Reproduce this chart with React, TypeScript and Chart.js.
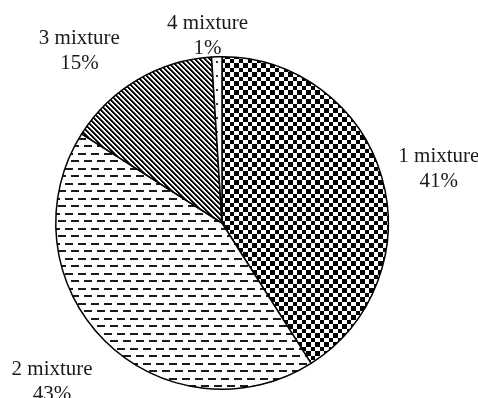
import React, { useEffect, useRef } from "react";
import { Chart, registerables } from "chart.js";

Chart.register(...registerables);

const categories = ["1 mixture", "2 mixture", "3 mixture", "4 mixture"];
const shares = [41, 43, 15, 1];
const percentLabels = ["41%", "43%", "15%", "1%"];
// Extra pixel shift applied to each outside label after radial placement
const labelNudges: [number, number][] = [
  [2, 8],
  [-11, 0],
  [-31, 17],
  [-8, 17],
];

const FONT = "21px 'Liberation Serif', 'Times New Roman', serif";
const LINE_H = 25;

function makeTile(w: number, h: number, paint: (c: CanvasRenderingContext2D) => void) {
  const cv = document.createElement("canvas");
  cv.width = w;
  cv.height = h;
  const c = cv.getContext("2d")!;
  c.fillStyle = "#fff";
  c.fillRect(0, 0, w, h);
  paint(c);
  return cv;
}

function buildPatterns(ctx: CanvasRenderingContext2D): CanvasPattern[] {
  const checker = makeTile(9, 9, (c) => {
    c.fillStyle = "#000";
    c.fillRect(0, 0, 5, 5);
    c.fillRect(5, 5, 4, 4);
  });
  const dashes = makeTile(13, 15, (c) => {
    c.fillStyle = "#1a1a1a";
    c.fillRect(0, 3, 8, 2);
    c.fillRect(6, 10, 8, 2);
    c.fillRect(-7, 10, 8, 2);
  });
  const stripes = makeTile(5, 5, (c) => {
    for (let y = 0; y < 5; y++) {
      for (let x = 0; x < 5; x++) {
        const m = (((x - y) % 5) + 5) % 5;
        if (m < 2) {
          c.fillStyle = "#000";
          c.fillRect(x, y, 1, 1);
        } else if (m === 2) {
          c.fillStyle = "#666";
          c.fillRect(x, y, 1, 1);
        }
      }
    }
  });
  const dots = makeTile(14, 14, (c) => {
    c.fillStyle = "#333";
    c.fillRect(6, 5, 2, 2);
  });
  return [checker, dashes, stripes, dots].map((t) => ctx.createPattern(t, "repeat")!);
}

const outsideLabels = {
  id: "outsideLabels",
  afterDraw(chart: any) {
    const ctx: CanvasRenderingContext2D = chart.ctx;
    const meta = chart.getDatasetMeta(0);
    ctx.save();
    ctx.font = FONT;
    ctx.fillStyle = "#1a1a1a";
    ctx.textAlign = "center";
    ctx.textBaseline = "middle";
    const gap = 12;
    meta.data.forEach((arc: any, i: number) => {
      const { x, y, startAngle, endAngle, outerRadius } = arc.getProps(
        ["x", "y", "startAngle", "endAngle", "outerRadius"],
        true
      );
      const mid = (startAngle + endAngle) / 2;
      const ux = Math.cos(mid);
      const uy = Math.sin(mid);
      const lines = [categories[i], percentLabels[i]];
      const hw = Math.max(...lines.map((l) => ctx.measureText(l).width)) / 2;
      const hh = (LINE_H * lines.length) / 2;
      // push the label box outward until it clears the pie by `gap`
      let d = outerRadius;
      for (; d < outerRadius * 2; d += 0.5) {
        const cx = d * ux;
        const cy = d * uy;
        const nx = Math.max(Math.abs(cx) - hw, 0);
        const ny = Math.max(Math.abs(cy) - hh, 0);
        if (Math.hypot(nx, ny) >= outerRadius + gap) break;
      }
      const lx = x + d * ux + labelNudges[i][0];
      const ly = y + d * uy + labelNudges[i][1];
      lines.forEach((t, k) => {
        ctx.fillText(t, lx, ly + (k - (lines.length - 1) / 2) * LINE_H);
      });
    });
    ctx.restore();
  },
};

export default function App() {
  const ref = useRef<HTMLCanvasElement>(null);

  useEffect(() => {
    const canvas = ref.current!;
    const ctx = canvas.getContext("2d")!;
    const chart = new Chart(canvas, {
      type: "pie",
      data: {
        labels: categories,
        datasets: [
          {
            data: shares,
            backgroundColor: buildPatterns(ctx),
            borderColor: "#000",
            borderWidth: 1.5,
          },
        ],
      },
      options: {
        animation: false,
        responsive: true,
        maintainAspectRatio: false,
        layout: { padding: { left: 55, right: 89, top: 56, bottom: 8 } },
        plugins: {
          legend: { display: false },
          tooltip: { enabled: false },
        },
      },
      plugins: [outsideLabels],
    });
    return () => chart.destroy();
  }, []);

  return (
    <div style={{ position: "fixed", left: 0, top: 0, width: 478, height: 398, background: "#fff" }}>
      <canvas ref={ref} />
    </div>
  );
}
